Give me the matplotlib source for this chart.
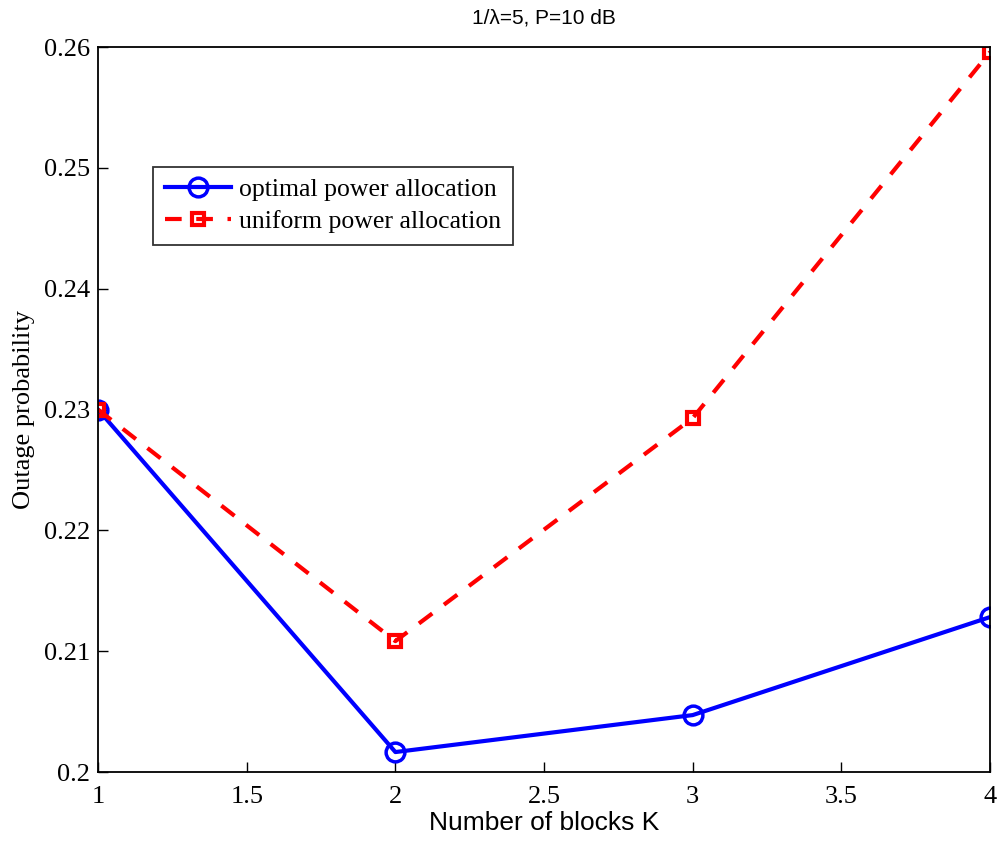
import matplotlib
matplotlib.use("Agg")
import matplotlib.pyplot as plt

# number of blocks K
K = [1, 2, 3, 4]
# outage probability for each scheme
p_optimal = [0.2300, 0.20166, 0.20472, 0.21283]
p_uniform = [0.2300, 0.21084, 0.2293, 0.25959]

xticks = [1, 1.5, 2, 2.5, 3, 3.5, 4]
xticklabels = ["1", "1.5", "2", "2.5", "3", "3.5", "4"]
yticks = [0.20, 0.21, 0.22, 0.23, 0.24, 0.25, 0.26]
yticklabels = ["0.2", "0.21", "0.22", "0.23", "0.24", "0.25", "0.26"]

fig = plt.figure(figsize=(10.01, 8.42), dpi=100)
ax = fig.add_axes([0.098, 0.083, 0.891, 0.861])

ax.plot(K, p_optimal, "-o", color="blue", linewidth=3, markersize=13.5,
        markeredgewidth=2.5, markerfacecolor="none", label="optimal power allocation")
ax.plot(K, p_uniform, "--s", color="red", linewidth=3, markersize=8,
        markeredgewidth=3, markerfacecolor="none", dashes=(4, 3.5),
        label="uniform power allocation")

ax.set_xlim(1, 4)
ax.set_ylim(0.2, 0.26)
ax.set_xticks(xticks)
ax.set_xticklabels(xticklabels, family="Liberation Serif", fontsize=19)
ax.set_yticks(yticks)
ax.set_yticklabels(yticklabels, family="Liberation Serif", fontsize=19)
ax.tick_params(direction="in", top=False, right=False, length=7, width=1)
ax.tick_params(axis="y", pad=6)
ax.tick_params(axis="x", pad=10)
for s in ax.spines.values():
    s.set_linewidth(1.3)

ax.set_xlabel("Number of blocks K", family="Liberation Sans", fontsize=19, labelpad=2)
ax.set_ylabel("Outage probability", family="Liberation Serif", fontsize=19, labelpad=6)
ax.set_title("1/\u03bb=5, P=10 dB", family="Liberation Sans", fontsize=15, pad=17)

leg = ax.legend(loc="upper left", bbox_to_anchor=(0.0617, 0.835),
                prop={"family": "Liberation Serif", "size": 18.5},
                frameon=True, fancybox=False, edgecolor="black",
                handlelength=2.6, borderpad=0.45, labelspacing=0.35,
                handletextpad=0.3, borderaxespad=0)
leg.get_frame().set_linewidth(1.3)

fig.savefig("out.png", dpi=100)
